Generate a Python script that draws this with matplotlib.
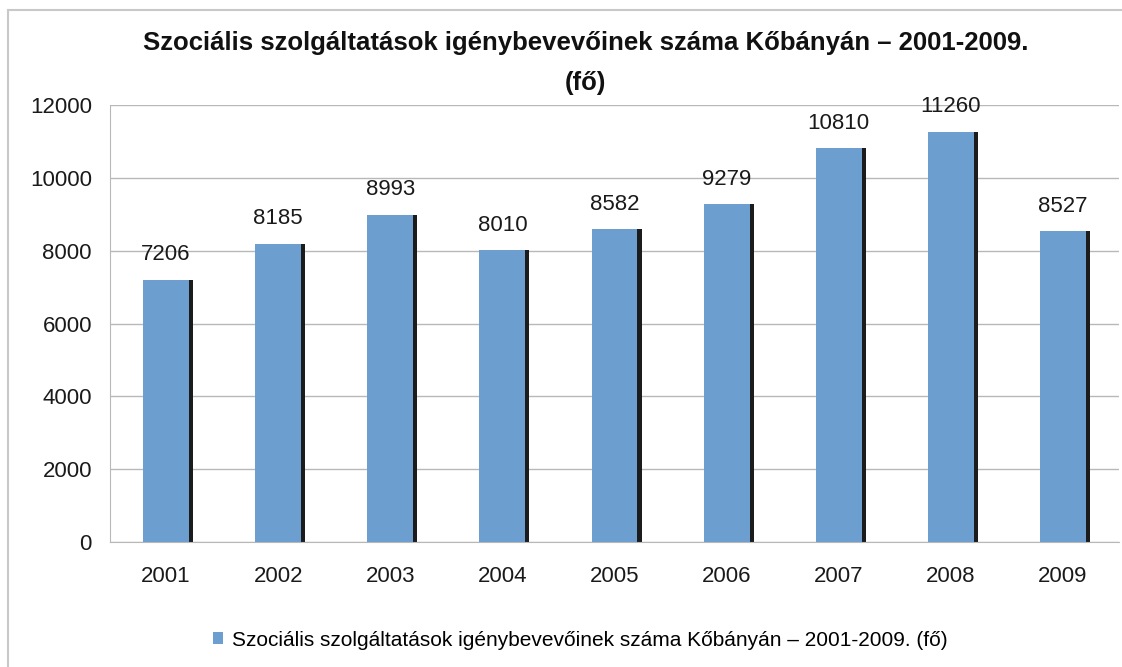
import matplotlib
matplotlib.use("Agg")
import matplotlib.pyplot as plt
from matplotlib.patches import Rectangle
import numpy as np

plt.rcParams['font.family'] = ['Liberation Sans', 'DejaVu Sans']

years = ["2001", "2002", "2003", "2004", "2005", "2006", "2007", "2008", "2009"]
values = [7206, 8185, 8993, 8010, 8582, 9279, 10810, 11260, 8527]
yticks = [0, 2000, 4000, 6000, 8000, 10000, 12000]
title = "Szociális szolgáltatások igénybevevőinek száma Kőbányán – 2001-2009.\n(fő)"
legend_label = "Szociális szolgáltatások igénybevevőinek száma Kőbányán – 2001-2009. (fő)"

bar_color = "#6c9fcf"
shadow_color = "#1c1c1c"
grid_color = "#b8b8b8"

fig = plt.figure(figsize=(11.22, 6.67), dpi=100)
fig.patches.append(Rectangle((8 / 1122, -0.05), 1.2, 1.05 - 10 / 667, transform=fig.transFigure,
                             fill=False, edgecolor="#c8c8c8", linewidth=1.5, clip_on=False))

ax = fig.add_axes([110 / 1122, 1 - 542 / 667, 1009 / 1122, 437 / 667])
x = np.arange(len(years))
w = 0.41
# shadow strips
ax.bar(x + w / 2, values, width=0.036, align='edge', color=shadow_color, zorder=2)
bars = ax.bar(x, values, width=w, color=bar_color, zorder=3, label=legend_label)

ax.set_xlim(-0.5, len(years) - 0.5)
ax.set_ylim(0, 12000)
ax.set_yticks(yticks)
ax.set_xticks(x)
ax.set_xticklabels(years)
ax.yaxis.grid(True, color=grid_color, linewidth=1)
ax.set_axisbelow(True)
for s in ["top", "right"]:
    ax.spines[s].set_visible(False)
ax.spines["left"].set_color(grid_color)
ax.spines["bottom"].set_color(grid_color)
ax.tick_params(axis='both', length=0, labelsize=16, colors="#1a1a1a")
ax.tick_params(axis='y', pad=13)
ax.tick_params(axis='x', pad=17)

for xi, v in zip(x, values):
    ax.annotate(f"{v}", (xi, v), xytext=(0, 18), textcoords="offset points",
                ha="center", va="center", fontsize=16, color="#1a1a1a")

fig.text(0.522, 1 - 63 / 667, title, ha="center", va="center", fontsize=18.5,
         fontweight="bold", linespacing=1.85, color="#111111")

leg = fig.legend(handles=[bars], labels=[legend_label], loc="center",
                 bbox_to_anchor=(0.517, 1 - 640 / 667), frameon=False, fontsize=15,
                 handlelength=0.5, handleheight=0.5, handletextpad=0.4)

fig.savefig("out.png", dpi=100)
